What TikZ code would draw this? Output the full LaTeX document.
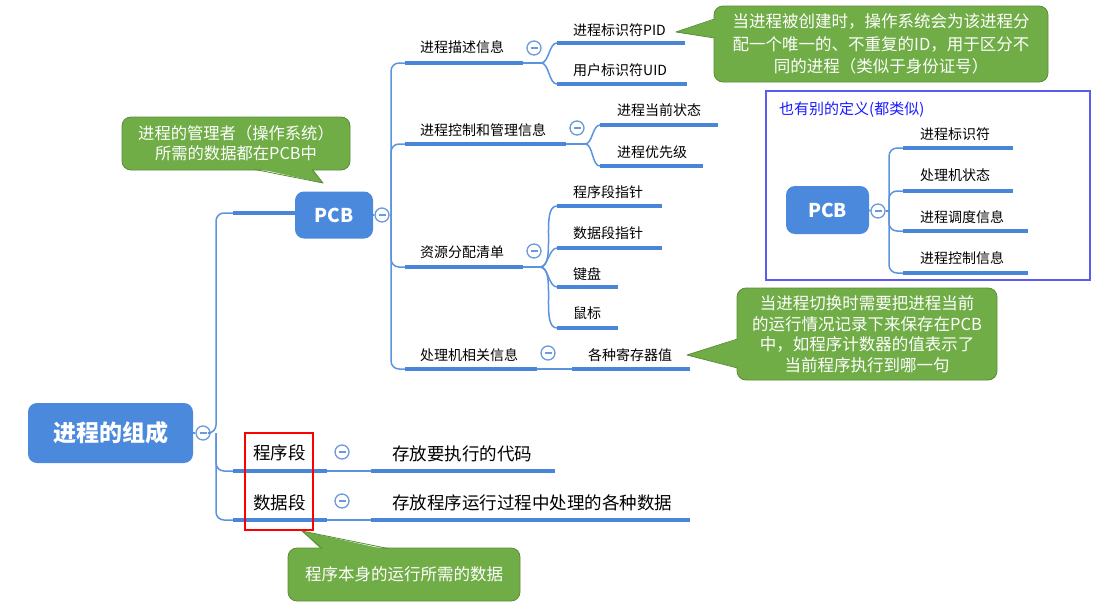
\documentclass[tikz,border=0pt]{standalone}
\usepackage{fontspec}
\setmainfont{Noto Sans CJK SC}
\definecolor{nodeblue}{HTML}{4A89DC}
\definecolor{ulblue}{HTML}{4A86D8}
\definecolor{thinblue}{HTML}{5B93DE}
\definecolor{circblue}{HTML}{6B9BDA}
\definecolor{callgreen}{HTML}{70AD47}
\definecolor{callborder}{HTML}{5A8C38}
\definecolor{boxblue}{HTML}{5B5BF0}
\definecolor{titleblue}{HTML}{1A1AFF}
\begin{document}
\begin{tikzpicture}[x=1pt,y=-1pt,
  lbl/.style={anchor=west, inner sep=0pt, font=\fontsize{14}{16}\selectfont, text=black},
  lblbig/.style={anchor=west, inner sep=0pt, font=\fontsize{17.5}{20}\selectfont, text=black},
  uline/.style={line width=4pt, draw=ulblue},
  thinl/.style={line width=1.5pt, draw=thinblue, rounded corners=8pt},
  coll/.style={circle, draw=circblue, line width=1.3pt, fill=white, minimum size=14pt, inner sep=0pt,
    path picture={\draw[circblue,line width=1.3pt] ([xshift=-3.5pt]path picture bounding box.center) -- ([xshift=3.5pt]path picture bounding box.center);}},
  bluenode/.style={rectangle, rounded corners=9pt, fill=nodeblue, text=white, inner sep=0pt},
  callout/.style={rectangle, rounded corners=9pt, fill=callgreen, draw=callborder, line width=0.8pt, text=white, align=center, inner sep=0pt},
  ptrfill/.style={fill=callgreen},
  ptredge/.style={draw=callborder, line width=0.8pt, line join=round}
]
\useasboundingbox (0,0) rectangle (1113,605);

% ---------- root ----------
\node[bluenode, minimum width=165pt, minimum height=60pt, font=\bfseries\fontsize{23}{26}\selectfont] (root) at (110.5,433) {进程的组成};
\node[coll] (rootc) at (203,433) {};
\coordinate (trunk) at (216,433);
\draw[thinblue, line width=1.5pt] (root.east) -- (rootc.west);

% ---------- PCB ----------
\node[bluenode, minimum width=78pt, minimum height=47pt, font=\bfseries\fontsize{19}{22}\selectfont] (pcb) at (334,215) {PCB};
\coordinate (pcbu) at (233,213);
\draw[thinl] (rootc) -- (trunk) |- (pcbu);
\draw[uline] (pcbu) -- (pcb.west |- pcbu);
\node[coll] (pcbc) at (382,215) {};
\draw[thinblue, line width=1.5pt] (pcb.east) -- (pcbc.west);
\coordinate (pv) at (391,215);

% level 1: 程序段 / 数据段
\coordinate (seg1u) at (233,471); \coordinate (seg1e) at (327,471);
\node[lblbig] (seg1) at (253,453) {程序段};
\draw[thinl] (trunk) |- (seg1u);
\draw[uline] (seg1u) -- (seg1e);
\node[coll] (seg1c) at (342,452) {};
\coordinate (code1u) at (371,471); \coordinate (code1e) at (555,471);
\node[lblbig] (code1) at (392,454) {存放要执行的代码};
\draw[thinl] (seg1e) -- (code1u);
\draw[uline] (code1u) -- (code1e);

\coordinate (seg2u) at (233,520); \coordinate (seg2e) at (327,520);
\node[lblbig] (seg2) at (253,503) {数据段};
\draw[thinl] (trunk) |- (seg2u);
\draw[uline] (seg2u) -- (seg2e);
\node[coll] (seg2c) at (342,501) {};
\coordinate (code2u) at (371,520); \coordinate (code2e) at (690,520);
\node[lblbig] (code2) at (392,503) {存放程序运行过程中处理的各种数据};
\draw[thinl] (seg2e) -- (code2u);
\draw[uline] (code2u) -- (code2e);

\node[draw=red, line width=2pt, minimum width=68pt, minimum height=97pt, inner sep=0pt] (redbox) at (279,481.5) {};

% ---------- PCB children ----------
\draw[thinl] (pcbc) -- (pv);
% 进程描述信息
\coordinate (descu) at (405,63); \coordinate (desce) at (523,63); \coordinate (j1) at (541,63);
\node[lbl] (desc) at (420,47) {进程描述信息};
\draw[thinl] (pv) |- (descu);
\draw[uline] (descu) -- (desce);
\node[coll] (descc) at (534,48) {};
\draw[thinl] (desce) -- (j1);
\coordinate (pidu) at (557,43); \coordinate (pide) at (685,43);
\node[lbl] (pid) at (573,30) {进程标识符PID};
\draw[uline] (pidu) -- (pide);
\draw[thinl] (j1) to[out=0,in=180,looseness=0.8] (pidu);
\coordinate (uidu) at (557,84); \coordinate (uide) at (687,84);
\node[lbl] (uid) at (573,70) {用户标识符UID};
\draw[uline] (uidu) -- (uide);
\draw[thinl] (j1) to[out=0,in=180,looseness=0.8] (uidu);

% 进程控制和管理信息
\coordinate (ctrlu) at (405,144); \coordinate (ctrle) at (566,144); \coordinate (j2) at (585,144);
\node[lbl] (ctrl) at (420,130) {进程控制和管理信息};
\draw[thinl] (pv) |- (ctrlu);
\draw[uline] (ctrlu) -- (ctrle);
\node[coll] (ctrlc) at (577,128) {};
\draw[thinl] (ctrle) -- (j2);
\coordinate (stau) at (600,125); \coordinate (stae) at (718,125);
\node[lbl] (sta) at (617,110) {进程当前状态};
\draw[uline] (stau) -- (stae);
\draw[thinl] (j2) to[out=0,in=180,looseness=0.8] (stau);
\coordinate (priu) at (600,166); \coordinate (prie) at (703,166);
\node[lbl] (pri) at (617,152) {进程优先级};
\draw[uline] (priu) -- (prie);
\draw[thinl] (j2) to[out=0,in=180,looseness=0.8] (priu);

% 资源分配清单
\coordinate (resu) at (405,267); \coordinate (rese) at (523,267); \coordinate (j3) at (540,267);
\node[lbl] (res) at (420,252) {资源分配清单};
\draw[thinl] (pv) |- (resu);
\draw[uline] (resu) -- (rese);
\node[coll] (resc) at (534,251) {};
\draw[thinl] (rese) -- (j3);
\coordinate (r1u) at (557,206); \coordinate (r1e) at (662,206);
\node[lbl] (r1) at (573,192) {程序段指针};
\draw[uline] (r1u) -- (r1e);
\draw[thinl] (j3) to[out=0,in=180,looseness=0.7] (r1u);
\coordinate (r2u) at (557,248); \coordinate (r2e) at (662,248);
\node[lbl] (r2) at (573,233) {数据段指针};
\draw[uline] (r2u) -- (r2e);
\draw[thinl] (j3) to[out=0,in=180,looseness=0.8] (r2u);
\coordinate (r3u) at (557,287); \coordinate (r3e) at (618,287);
\node[lbl] (r3) at (573,274) {键盘};
\draw[uline] (r3u) -- (r3e);
\draw[thinl] (j3) to[out=0,in=180,looseness=0.8] (r3u);
\coordinate (r4u) at (557,328); \coordinate (r4e) at (618,328);
\node[lbl] (r4) at (573,313) {鼠标};
\draw[uline] (r4u) -- (r4e);
\draw[thinl] (j3) to[out=0,in=180,looseness=0.7] (r4u);

% 处理机相关信息
\coordinate (cpuu) at (405,369); \coordinate (cpue) at (537,369);
\node[lbl] (cpu) at (420,355) {处理机相关信息};
\draw[thinl] (pv) |- (cpuu);
\draw[uline] (cpuu) -- (cpue);
\node[coll] (cpuc) at (548,353) {};
\coordinate (regu) at (572,369); \coordinate (rege) at (690,369);
\node[lbl] (reg) at (588,355) {各种寄存器值};
\draw[thinl] (cpue) -- (regu);
\draw[uline] (regu) -- (rege);

% ---------- callouts ----------
% top-left
\node[callout, minimum width=228pt, minimum height=53pt, font=\fontsize{16.3}{20}\selectfont] (call1) at (236,143.5) {进程的管理者（操作系统）\\所需的数据都在PCB中};
\coordinate (t1) at (323,183);
\fill[ptrfill] (255,168) -- (t1) -- (312,168) -- cycle;
\draw[ptredge] (255,169.5) -- (t1) -- (312,169.5);

% top-right
\node[callout, minimum width=334pt, minimum height=76pt, font=\fontsize{16.5}{22.5}\selectfont] (call2) at (881,44) {当进程被创建时，操作系统会为该进程分\\配一个唯一的、不重复的ID，用于区分不\\同的进程（类似于身份证号）};
\coordinate (t2) at (676,32);
\fill[ptrfill] (716,19) -- (t2) -- (716,38) -- cycle;
\draw[ptredge] (714.5,19) -- (t2) -- (714.5,38);

% middle-right
\node[callout, minimum width=260pt, minimum height=92pt, font=\fontsize{16.5}{20.5}\selectfont] (call3) at (867,334) {当进程切换时需要把进程当前\\的运行情况记录下来保存在PCB\\中，如程序计数器的值表示了\\当前程序执行到哪一句};
\coordinate (t3) at (687,355);
\fill[ptrfill] (739,339) -- (t3) -- (739,368) -- cycle;
\draw[ptredge] (737.5,339) -- (t3) -- (737.5,368);

% bottom
\node[callout, minimum width=232pt, minimum height=53pt, font=\fontsize{16.5}{20}\selectfont] (call4) at (404,574.5) {程序本身的运行所需的数据};
\coordinate (t4) at (302,531);
\fill[ptrfill] (322,550) -- (t4) -- (388,550) -- cycle;
\draw[ptredge] (322,548.5) -- (t4) -- (388,548.5);

% ---------- right definition box ----------
\node[draw=boxblue, line width=1.5pt, minimum width=324pt, minimum height=189pt, inner sep=0pt] (defbox) at (928,185.5) {};
\node[anchor=west, inner sep=0pt, text=titleblue, font=\fontsize{15}{17}\selectfont] (deftitle) at (779,110) {也有别的定义(都类似)};
\node[bluenode, minimum width=83pt, minimum height=48pt, font=\bfseries\fontsize{19}{22}\selectfont] (pcb2) at (827.5,210) {PCB};
\node[coll] (pcb2c) at (878,211) {};
\draw[thinblue, line width=1.5pt] (pcb2.east) -- (pcb2c.west);
\coordinate (pv2) at (889,211);
\draw[thinl] (pcb2c) -- (pv2);
\coordinate (d1u) at (903,148); \coordinate (d1e) at (1013,148);
\node[lbl] (d1) at (920,134) {进程标识符};
\draw[thinl] (pv2) |- (d1u); \draw[uline] (d1u) -- (d1e);
\coordinate (d2u) at (903,191); \coordinate (d2e) at (1013,191);
\node[lbl] (d2) at (920,175) {处理机状态};
\draw[thinl] (pv2) |- (d2u); \draw[uline] (d2u) -- (d2e);
\coordinate (d3u) at (903,231); \coordinate (d3e) at (1028,231);
\node[lbl] (d3) at (920,217) {进程调度信息};
\draw[thinl] (pv2) |- (d3u); \draw[uline] (d3u) -- (d3e);
\coordinate (d4u) at (903,273); \coordinate (d4e) at (1028,273);
\node[lbl] (d4) at (920,258) {进程控制信息};
\draw[thinl] (pv2) |- (d4u); \draw[uline] (d4u) -- (d4e);

\end{tikzpicture}
\end{document}
